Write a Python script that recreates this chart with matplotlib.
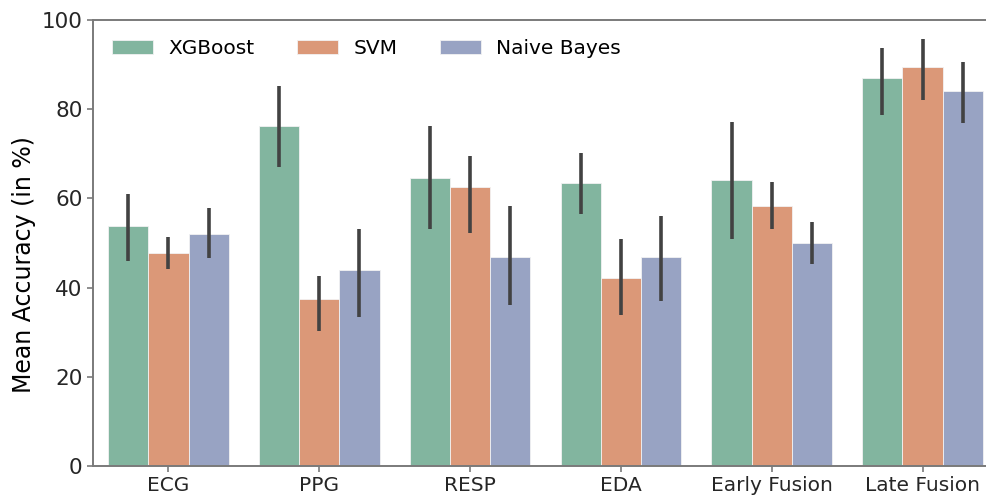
import numpy as np
import matplotlib
matplotlib.use("Agg")
import matplotlib.pyplot as plt
from matplotlib.patches import Patch

categories = ["ECG", "PPG", "RESP", "EDA", "Early Fusion", "Late Fusion"]
models = ["XGBoost", "SVM", "Naive Bayes"]

xgb_mean = [53.7, 76.3, 64.6, 63.4, 64.1, 86.9]
xgb_lo = [46.0, 67.1, 53.1, 56.4, 50.9, 78.8]
xgb_hi = [61.0, 85.2, 76.2, 70.1, 77.1, 93.8]

svm_mean = [47.8, 37.5, 62.5, 42.2, 58.3, 89.5]
svm_lo = [44.2, 30.3, 52.3, 33.9, 53.1, 82.1]
svm_hi = [51.4, 42.6, 69.6, 51.0, 63.7, 95.7]

nb_mean = [52.0, 43.9, 46.9, 46.8, 49.9, 84.1]
nb_lo = [46.7, 33.3, 36.0, 37.0, 45.4, 76.8]
nb_hi = [57.8, 53.1, 58.4, 56.1, 54.6, 90.6]

yticks = [0, 20, 40, 60, 80, 100]

series = [
    (xgb_mean, xgb_lo, xgb_hi),
    (svm_mean, svm_lo, svm_hi),
    (nb_mean, nb_lo, nb_hi),
]

# muted Set2 palette
colors = ["#82b59f", "#db9878", "#98a3c3"]

fig = plt.figure(figsize=(9.87, 4.97), dpi=100)
ax = fig.add_axes([93 / 987, 31 / 497, 905 / 987, 446 / 497])

x = np.arange(len(categories))
width = 0.8 / len(models)
for i, ((m, lo, hi), col) in enumerate(zip(series, colors)):
    pos = x - 0.4 + width * (i + 0.5)
    ax.bar(pos, m, width=width, color=col, edgecolor="#f2f2f2",
           linewidth=0.6, zorder=2)
    ax.vlines(pos, lo, hi, color="#424242", linewidth=2.6, zorder=3)

ax.set_xlim(-0.5, len(categories) - 0.5)
ax.set_ylim(0, 100)
ax.set_xticks(x)
ax.set_xticklabels(categories, fontsize=14.5)
ax.set_yticks(yticks)
ax.set_yticklabels([str(t) for t in yticks], fontsize=15.5)
ax.set_ylabel("Mean Accuracy (in %)", fontsize=17, labelpad=4)
ax.yaxis.label.set_y(0.451)

for s in ax.spines.values():
    s.set_color("#7a7a7a")
    s.set_linewidth(1.4)
ax.tick_params(axis="both", colors="#7a7a7a", labelcolor="#262626",
               length=4, width=1.2)

handles = [Patch(facecolor=c, edgecolor="#f2f2f2", linewidth=0.6) for c in colors]
ax.legend(handles, models, loc="upper left", ncol=3, frameon=False,
          fontsize=14.5, handlelength=2.05, handleheight=0.7,
          columnspacing=2.1, handletextpad=0.75,
          bbox_to_anchor=(0.0, 1.0), borderaxespad=0.55)

fig.savefig("out.png", dpi=100)
